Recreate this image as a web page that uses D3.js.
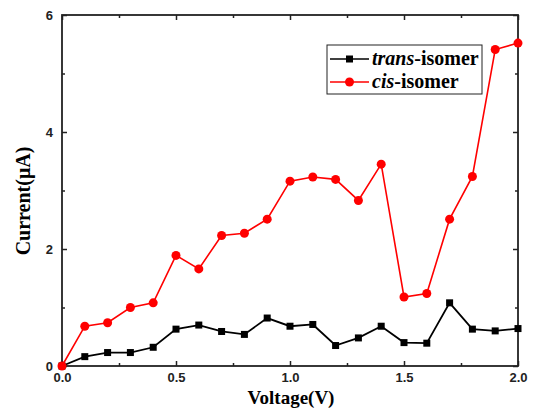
<!DOCTYPE html>
<html>
<head>
<meta charset="utf-8">
<script src="https://cdn.jsdelivr.net/npm/d3@7"></script>
<style>
  body { margin: 0; background: #fff; }
</style>
</head>
<body>
<svg id="chart" width="536" height="412"></svg>
<script>
// data
let voltages = [0, 0.1, 0.2, 0.3, 0.4, 0.5, 0.6, 0.7, 0.8, 0.9, 1.0,
                1.1, 1.2, 1.3, 1.4, 1.5, 1.6, 1.7, 1.8, 1.9, 2.0];
let transCurrent = [0, 0.16, 0.23, 0.23, 0.32, 0.63, 0.70, 0.59, 0.54, 0.82, 0.68,
                    0.71, 0.35, 0.48, 0.68, 0.40, 0.39, 1.08, 0.63, 0.60, 0.64];
let cisCurrent = [0, 0.68, 0.74, 1.00, 1.08, 1.89, 1.66, 2.23, 2.27, 2.51, 3.16,
                  3.23, 3.19, 2.83, 3.45, 1.18, 1.24, 2.51, 3.24, 5.41, 5.52];
let xTicks = [0, 0.5, 1.0, 1.5, 2.0];
let xMinorTicks = [0.25, 0.75, 1.25, 1.75];
let yTicks = [0, 2, 4, 6];
let yMinorTicks = [1, 3, 5];

let svg = d3.select("#chart");
let plotLeft = 62, plotRight = 518, plotTop = 15, plotBottom = 366;

let xScale = d3.scaleLinear().domain([0, 2]).range([plotLeft, plotRight]);
let yScale = d3.scaleLinear().domain([0, 6]).range([plotBottom, plotTop]);

let tickFont = "Arial, 'Liberation Sans', sans-serif";
let serif = "'Liberation Serif', 'Times New Roman', serif";

// axes with inward ticks on all four sides
function styleAxis(g) {
    g.select(".domain").remove();
    g.selectAll("line").attr("stroke", "#222").attr("stroke-width", 1.5);
    g.selectAll("text")
        .style("font-family", tickFont)
        .style("font-size", "13px")
        .style("font-weight", "bold")
        .attr("fill", "#222");
}

function addAxis(axisFn, pos, scale, values, size, fmt, pad) {
    let transform = (axisFn === d3.axisBottom || axisFn === d3.axisTop)
        ? "translate(0," + pos + ")" : "translate(" + pos + ",0)";
    svg.append("g")
        .attr("transform", transform)
        .call(axisFn(scale).tickValues(values).tickFormat(fmt)
            .tickSizeInner(-size).tickSizeOuter(0).tickPadding(pad || 3))
        .call(styleAxis);
}

addAxis(d3.axisBottom, plotBottom, xScale, xTicks, 5, d3.format(".1f"), 7);
addAxis(d3.axisBottom, plotBottom, xScale, xMinorTicks, 3, "");
addAxis(d3.axisTop, plotTop, xScale, xTicks, 5, "");
addAxis(d3.axisTop, plotTop, xScale, xMinorTicks, 3, "");
addAxis(d3.axisLeft, plotLeft, yScale, yTicks, 5, d3.format("d"), 9);
addAxis(d3.axisLeft, plotLeft, yScale, yMinorTicks, 3, "");
addAxis(d3.axisRight, plotRight, yScale, yTicks, 5, "");
addAxis(d3.axisRight, plotRight, yScale, yMinorTicks, 3, "");

// frame
svg.append("rect")
    .attr("x", plotLeft).attr("y", plotTop)
    .attr("width", plotRight - plotLeft).attr("height", plotBottom - plotTop)
    .attr("fill", "none")
    .attr("stroke", "#222")
    .attr("stroke-width", 1.8);

// lines
let line = d3.line()
    .x(function(d) { return xScale(d[0]); })
    .y(function(d) { return yScale(d[1]); });

let transPts = voltages.map(function(v, i) { return [v, transCurrent[i]]; });
let cisPts = voltages.map(function(v, i) { return [v, cisCurrent[i]]; });

svg.append("path")
    .datum(transPts)
    .attr("d", line)
    .attr("fill", "none")
    .attr("stroke", "#000")
    .attr("stroke-width", 1.8);

svg.selectAll(".transDots")
    .data(transPts)
    .enter()
    .append("rect")
    .attr("x", function(d) { return xScale(d[0]) - 3.5; })
    .attr("y", function(d) { return yScale(d[1]) - 3.5; })
    .attr("width", 7)
    .attr("height", 7)
    .attr("fill", "#000");

svg.append("path")
    .datum(cisPts)
    .attr("d", line)
    .attr("fill", "none")
    .attr("stroke", "#ff0000")
    .attr("stroke-width", 1.6);

svg.selectAll(".cisDots")
    .data(cisPts)
    .enter()
    .append("circle")
    .attr("cx", function(d) { return xScale(d[0]); })
    .attr("cy", function(d) { return yScale(d[1]); })
    .attr("r", 4.5)
    .attr("fill", "#ff0000");

// axis titles
svg.append("text")
    .attr("x", 291)
    .attr("y", 404)
    .attr("text-anchor", "middle")
    .style("font-family", serif)
    .style("font-weight", "bold")
    .style("font-size", "19px")
    .text("Voltage(V)");

svg.append("text")
    .attr("transform", "translate(30,201) rotate(-90)")
    .attr("text-anchor", "middle")
    .style("font-family", serif)
    .style("font-weight", "bold")
    .style("font-size", "20px")
    .text("Current(\u03bcA)");

// legend
let legend = svg.append("g");
legend.append("rect")
    .attr("x", 327).attr("y", 45)
    .attr("width", 155).attr("height", 49)
    .attr("fill", "#fff")
    .attr("stroke", "#222")
    .attr("stroke-width", 1);

let legendRows = [
    { pre: "trans", color: "#000", shape: "square", y: 59 },
    { pre: "cis", color: "#ff0000", shape: "circle", y: 82 }
];
legendRows.forEach(function(row) {
    legend.append("line")
        .attr("x1", 330).attr("x2", 369)
        .attr("y1", row.y).attr("y2", row.y)
        .attr("stroke", row.color)
        .attr("stroke-width", 1.6);
    if (row.shape === "square") {
        legend.append("rect")
            .attr("x", 346).attr("y", row.y - 3.5)
            .attr("width", 7).attr("height", 7)
            .attr("fill", row.color);
    } else {
        legend.append("circle")
            .attr("cx", 349.5).attr("cy", row.y)
            .attr("r", 4.5)
            .attr("fill", row.color);
    }
    let t = legend.append("text")
        .attr("x", 372).attr("y", row.y + 6)
        .style("font-family", serif)
        .style("font-weight", "bold")
        .style("font-size", "20px");
    t.append("tspan").style("font-style", "italic").text(row.pre);
    t.append("tspan").text("-isomer");
});
</script>
</body>
</html>
